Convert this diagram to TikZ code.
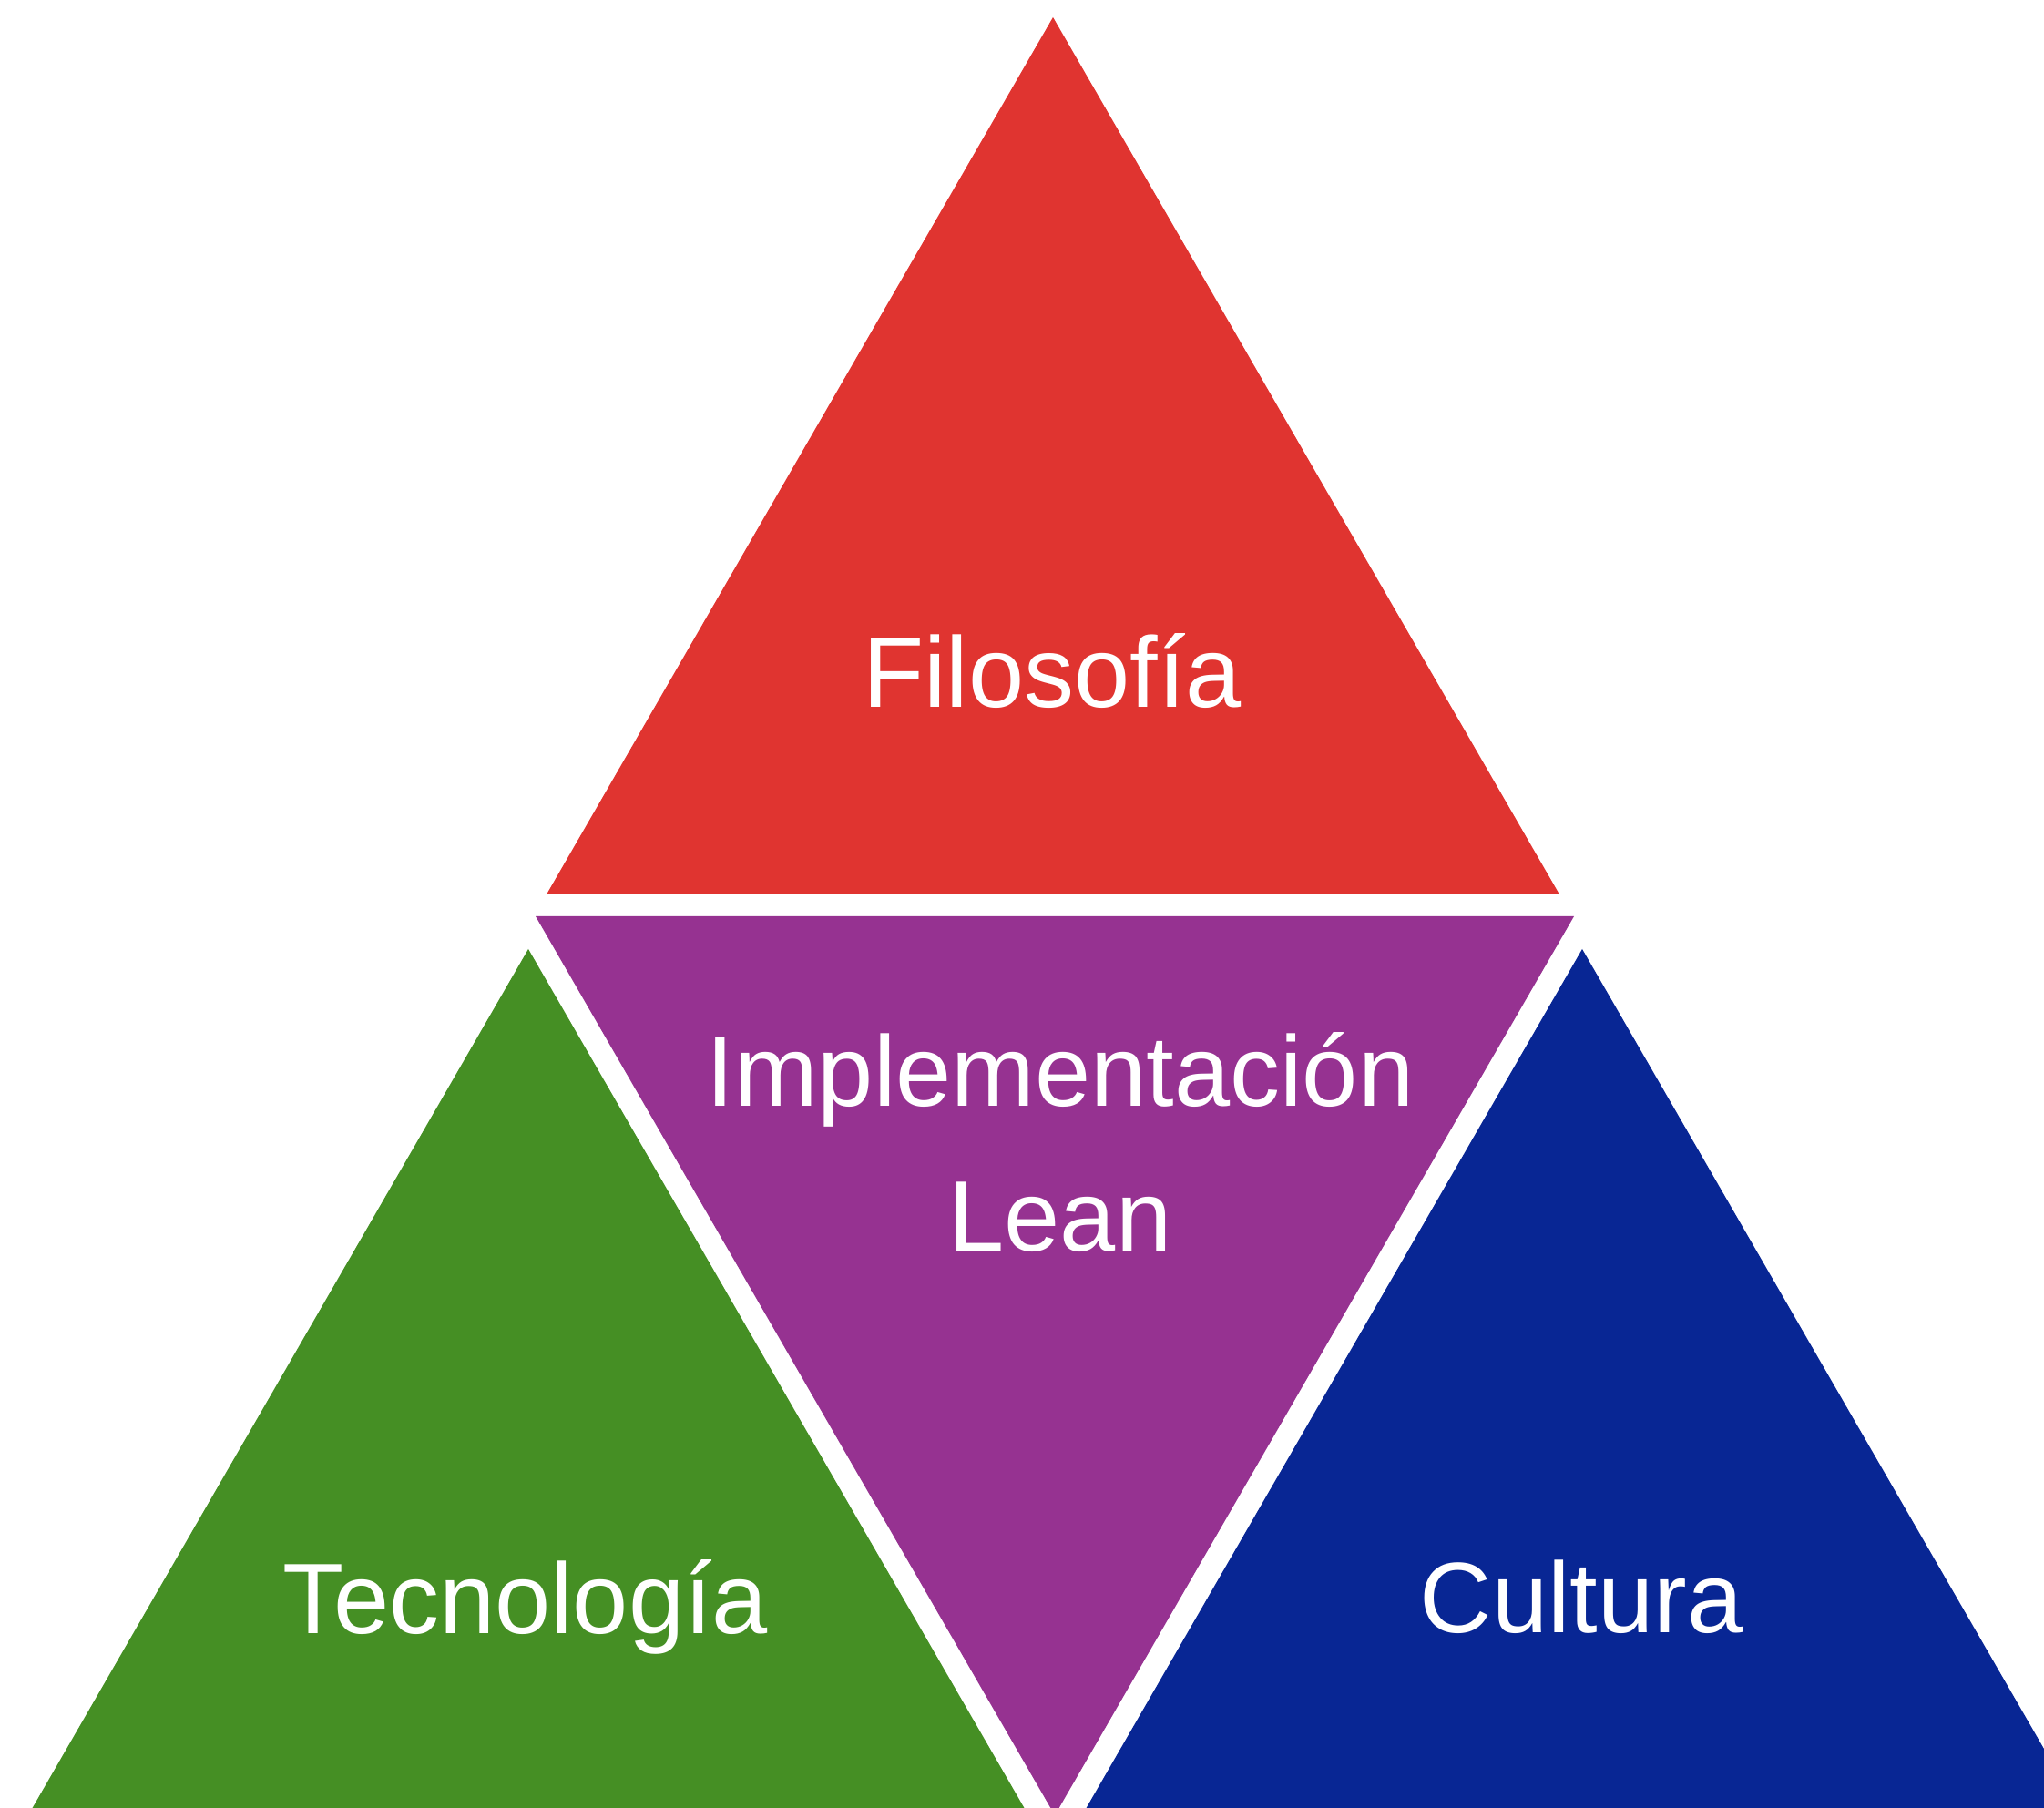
\documentclass[tikz,border=0pt]{standalone}
\usepackage{fontspec}
\setmainfont{Liberation Sans}
\usepackage{tikz}
\usetikzlibrary{calc}

\definecolor{colFilosofia}{HTML}{E03430}
\definecolor{colImplementacion}{HTML}{963291}
\definecolor{colTecnologia}{HTML}{458F24}
\definecolor{colCultura}{HTML}{082694}

\begin{document}
\begin{tikzpicture}[scale = 1,
    tri/.style = {draw = none},
    lbl/.style = {text = white, font = \fontsize{31.3}{45.5}\selectfont, align = center, inner sep = 0pt}]

    \useasboundingbox (0,0) rectangle (22.44,19.84);
    \clip (0,0) rectangle (22.44,19.84);

        \pgfmathsetmacro\seite{11.12}
        \pgfmathsetmacro\hoehe{\seite*sqrt(3)/2}

        % oben
        \fill[tri, colFilosofia](6.00,10.02) -- ++(\seite,0) -- ++(120:\seite) -- cycle;

        % mitte, umgedreht
        \fill[tri, colImplementacion](5.88,9.78) -- (17.28,9.78) -- (11.58,-0.09) -- cycle;

        % unten links
        \fill[tri, colTecnologia](0.24,-0.21) -- ++(\seite,0) -- ++(120:\seite) -- cycle;

        % unten rechts
        \fill[tri, colCultura](11.81,-0.21) -- ++(\seite,0) -- ++(120:\seite) -- cycle;

    \node[lbl, anchor = base] (filosofia) at (11.55,12.07) {Filosof\'ia};
    \node[lbl, anchor = base] (implementacion) at (11.64,6.10) {Implementaci\'on\\Lean};
    \node[lbl, anchor = base] (tecnologia) at (5.77,1.90) {Tecnolog\'ia};
    \node[lbl, anchor = base] (cultura) at (17.36,1.91) {Cultura};
\end{tikzpicture}
\end{document}
